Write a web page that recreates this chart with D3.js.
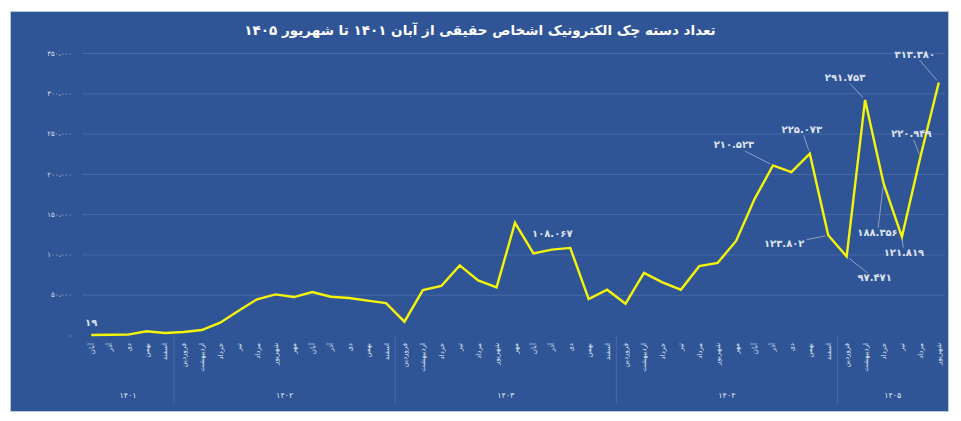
<!DOCTYPE html>
<html lang="fa">
<head>
<meta charset="utf-8">
<script src="https://cdn.jsdelivr.net/npm/d3@7"></script>
<style>
  html, body { margin: 0; padding: 0; background: #fff; }
  svg { display: block; font-family: "DejaVu Sans", "Noto Sans", sans-serif; }
</style>
</head>
<body>
<svg id="chart"></svg>
<script>
const title = "تعداد دسته چک الکترونیک اشخاص حقیقی از آبان ۱۴۰۱ تا شهریور ۱۴۰۵";

const months = [
  "آبان", "آذر", "دی", "بهمن", "اسفند",
  "فروردین", "اردیبهشت", "خرداد", "تیر", "مرداد", "شهریور", "مهر", "آبان", "آذر", "دی", "بهمن", "اسفند",
  "فروردین", "اردیبهشت", "خرداد", "تیر", "مرداد", "شهریور", "مهر", "آبان", "آذر", "دی", "بهمن", "اسفند",
  "فروردین", "اردیبهشت", "خرداد", "تیر", "مرداد", "شهریور", "مهر", "آبان", "آذر", "دی", "بهمن", "اسفند",
  "فروردین", "اردیبهشت", "خرداد", "تیر", "مرداد", "شهریور"
];

const years = ["۱۴۰۱", "۱۴۰۲", "۱۴۰۳", "۱۴۰۴", "۱۴۰۵"];
const monthsPerYear = [5, 12, 12, 12, 6];

const values = [
  19, 300, 500, 4600, 2500,
  3700, 6200, 15300, 30200, 44300, 50400, 47100, 53300, 47500, 45900, 42600, 39500,
  16500, 55800, 60800, 86400, 67800, 59100, 139300, 101300, 106000, 108067, 44600, 56200,
  38800, 77100, 65400, 56200, 85400, 89600, 116700, 168700, 210523, 202100, 225073, 123802,
  97471, 291753, 188356, 121819, 220949, 313380
];

const yTicks = [0, 50000, 100000, 150000, 200000, 250000, 300000, 350000];

// indices of the points that carry a value label
const labelled = [0, 26, 37, 39, 40, 41, 42, 43, 44, 45, 46];

// where each label sits relative to its point, and whether it gets a leader line
const labelOffset = {
  0:  { dx: 0,   dy: -12, leader: false },
  26: { dx: -18, dy: -14, leader: false },
  37: { dx: -39, dy: -20, leader: true },
  39: { dx: -8,  dy: -24, leader: true },
  40: { dx: -44, dy: 9,   leader: true },
  41: { dx: 28,  dy: 22,  leader: true },
  42: { dx: -20, dy: -22, leader: true },
  43: { dx: -6,  dy: 50,  leader: true },
  44: { dx: 2,   dy: 16,  leader: true },
  45: { dx: -9,  dy: -23, leader: true },
  46: { dx: -24, dy: -28, leader: true }
};

const faDigits = "۰۱۲۳۴۵۶۷۸۹";
const toFa = s => String(s).replace(/[0-9]/g, d => faDigits[+d]);
const fmtTick = v => toFa(d3.format(",")(v)).replace(/,/g, "،");
const fmtLabel = v => toFa(d3.format(",")(v)).replace(/,/g, ".");

const width = 961;
const height = 421;
const panel = { x: 10, y: 11, w: 938, h: 400 };
const plot = { left: 82, right: 948, top: 53, bottom: 335 };

const svg = d3.select("#chart")
  .attr("width", width)
  .attr("height", height);

svg.append("rect")
  .attr("x", panel.x + 0.5)
  .attr("y", panel.y + 0.5)
  .attr("width", panel.w)
  .attr("height", panel.h)
  .attr("fill", "#2f5597")
  .attr("stroke", "#b8c6df")
  .attr("stroke-width", 1);

svg.append("text")
  .attr("x", 480)
  .attr("y", 31)
  .attr("text-anchor", "middle")
  .attr("dominant-baseline", "middle")
  .attr("direction", "rtl")
  .style("fill", "#ffffff")
  .style("font-size", "13.5px")
  .style("font-weight", "bold")
  .text(title);

const x = d3.scaleBand()
  .domain(d3.range(values.length))
  .range([plot.left, plot.right]);

const y = d3.scaleLinear()
  .domain([0, 350000])
  .range([plot.bottom, plot.top]);

const cx = i => x(i) + x.bandwidth() / 2;

// grid
svg.append("g")
  .attr("transform", `translate(${plot.left},0)`)
  .call(d3.axisLeft(y)
    .tickValues(yTicks.filter(t => t > 0))
    .tickSize(-(plot.right - 3 - plot.left))
    .tickFormat("")
  )
  .call(g => g.select(".domain").remove())
  .call(g => g.selectAll("line").attr("stroke", "rgba(255,255,255,0.12)"));

// y axis labels
svg.append("g")
  .attr("transform", `translate(72,0)`)
  .call(d3.axisLeft(y).tickValues(yTicks).tickSize(0).tickFormat(fmtTick))
  .call(g => g.select(".domain").remove())
  .call(g => g.selectAll("text")
    .attr("x", 0)
    .style("fill", "#d6deec")
    .style("font-size", "7px")
    .style("font-family", "DejaVu Sans, sans-serif"));

// month labels
svg.append("g")
  .selectAll("text")
  .data(months)
  .join("text")
  .attr("transform", (d, i) => `translate(${cx(i) + 2.5},343) rotate(-90)`)
  .attr("text-anchor", "end")
  .style("fill", "#dfe5f0")
  .style("font-size", "7px")
  .text(d => d);

// year groups
const starts = d3.cumsum([0].concat(monthsPerYear)).slice(0, years.length);
const groups = years.map((yr, k) => ({
  year: yr,
  from: starts[k],
  to: starts[k] + monthsPerYear[k]
}));

svg.append("g")
  .selectAll("line")
  .data(groups.slice(1))
  .join("line")
  .attr("x1", d => x(d.from))
  .attr("x2", d => x(d.from))
  .attr("y1", plot.bottom)
  .attr("y2", 404)
  .attr("stroke", "rgba(255,255,255,0.12)");

svg.append("g")
  .selectAll("text")
  .data(groups)
  .join("text")
  .attr("x", d => (x(d.from) + x(d.to - 1) + x.bandwidth()) / 2)
  .attr("y", 395)
  .attr("text-anchor", "middle")
  .attr("dominant-baseline", "middle")
  .style("fill", "#dfe5f0")
  .style("font-size", "8px")
  .text(d => d.year);

// line
const line = d3.line()
  .x((d, i) => cx(i))
  .y(d => y(d));

svg.append("path")
  .datum(values)
  .attr("d", line)
  .attr("fill", "none")
  .attr("stroke", "#f5f50a")
  .attr("stroke-width", 2.4)
  .attr("stroke-linejoin", "miter");

// value labels with leader lines
const labels = svg.append("g");
labelled.forEach(i => {
  const o = labelOffset[i];
  const px = cx(i), py = y(values[i]);
  const lx = px + o.dx, ly = py + o.dy;
  const t = labels.append("text")
    .attr("x", lx)
    .attr("y", ly)
    .attr("text-anchor", "middle")
    .attr("dominant-baseline", "middle")
    .style("fill", "#dfe3ee")
    .style("font-size", "10px")
    .style("font-weight", "bold")
    .text(i === 0 ? toFa(values[i]) : fmtLabel(values[i]));

  if (!o.leader) return;
  const b = t.node().getBBox();
  const hw = b.width / 2 + 2, hh = b.height / 2;
  const vx = px - lx, vy = py - ly;
  const s = Math.min(vx ? hw / Math.abs(vx) : Infinity, vy ? hh / Math.abs(vy) : Infinity);
  const len = Math.hypot(vx, vy);
  const e = 1 - 3 / len;
  labels.append("line")
    .attr("x1", lx + vx * s)
    .attr("y1", ly + vy * s)
    .attr("x2", lx + vx * e)
    .attr("y2", ly + vy * e)
    .attr("stroke", "rgba(210,215,225,0.7)")
    .attr("stroke-width", 0.8);
});
</script>
</body>
</html>
